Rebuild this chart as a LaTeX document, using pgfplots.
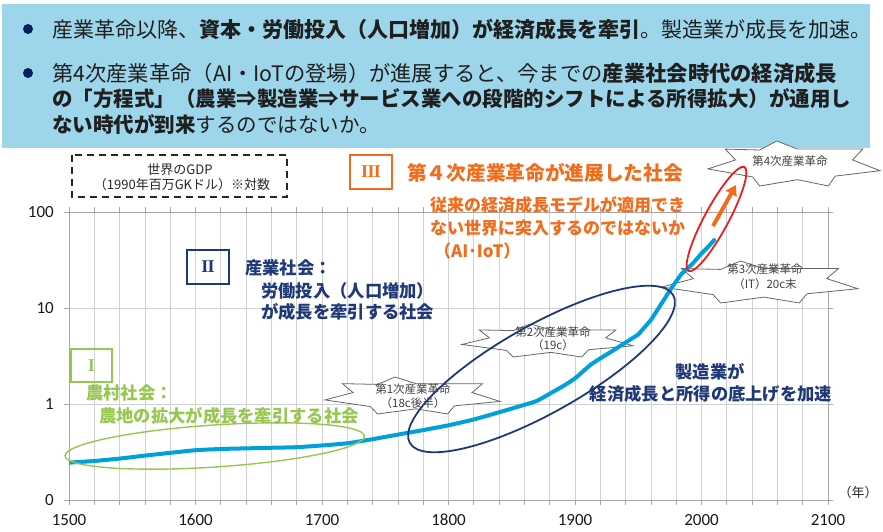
\documentclass[border=0pt]{standalone}
\usepackage{fontspec}
\setmainfont{Noto Sans CJK JP}
\newfontfamily\carlito{Carlito}
\newfontfamily\romfont{Liberation Serif}
\usepackage{pgfplots}
\pgfplotsset{compat=1.18}
\usetikzlibrary{arrows.meta}
\definecolor{hdrblue}{RGB}{157,214,235}
\definecolor{bulletnavy}{RGB}{0,32,96}
\definecolor{navy}{RGB}{31,56,120}
\definecolor{orng}{RGB}{242,108,28}
\definecolor{grn}{RGB}{150,200,80}
\definecolor{curvec}{RGB}{0,160,220}
\definecolor{redell}{RGB}{235,30,35}
\newcommand{\fs}[2]{\fontsize{#1}{#2}\selectfont}
\newcommand{\burst}[4]{%
  \begin{scope}[shift={(#1,#2)}, xscale=#3, yscale=#4]
   \filldraw[fill=white, draw=black!60, line width=0.8pt]
     (0.00,0.62) -- (0.16,0.42) -- (0.10,0.18) -- (0.30,0.20) -- (0.40,0.00) --
     (0.52,0.18) -- (0.90,0.18) -- (0.84,0.42) -- (1.00,0.66) -- (0.74,0.78) --
     (0.70,1.00) -- (0.52,0.86) -- (0.30,1.00) -- (0.26,0.80) -- cycle;
  \end{scope}}
\pgfplotstableread{
year gdp
1500 0.245
1520 0.255
1540 0.270
1560 0.290
1580 0.310
1600 0.330
1620 0.340
1640 0.345
1660 0.350
1680 0.355
1700 0.370
1720 0.390
1740 0.430
1760 0.480
1780 0.535
1800 0.600
1820 0.690
1840 0.820
1860 0.980
1870 1.080
1880 1.280
1890 1.520
1900 1.850
1913 2.600
1930 3.600
1950 5.300
}\gdpearly
\pgfplotstableread{
year gdp
1950 5.300
1960 7.500
1970 12.00
1976 16.00
1984 22.50
1993 29.00
2000 37.00
2005 43.00
2010 51.00
}\gdplate
\begin{document}
\begin{tikzpicture}[x=1pt,y=1pt]
\path[use as bounding box] (0,0) rectangle (883,532);
% header
\begin{scope}[shift={(0,532)}, yscale=-1]
 \fill[hdrblue] (2,4) rectangle (870,148);
 \fill[bulletnavy] (28,29) circle (5);
 \fill[bulletnavy] (28,73) circle (5);
 \node[anchor=west, inner sep=0pt, text=black!88] at (52,29) {\fs{21}{24}産業革命以降、\textbf{資本・労働投入（人口増加）が経済成長を牽引}。製造業が成長を加速。};
 \node[anchor=west, inner sep=0pt, text=black!88] at (52,73) {\fs{21.3}{24}第4次産業革命（AI・IoTの登場）が進展すると、今までの\textbf{産業社会時代の経済成長}};
 \node[anchor=west, inner sep=0pt, text=black!88] at (52,99) {\fs{20.5}{24}\textbf{の「方程式」（農業⇒製造業⇒サービス業への段階的シフトによる所得拡大）が通用し}};
 \node[anchor=west, inner sep=0pt, text=black!88] at (52,125) {\fs{20.5}{24}\textbf{ない時代が到来}するのではないか。};
\end{scope}
% grid axis
\begin{axis}[at={(69pt,32pt)}, anchor=south west, scale only axis,
  width=759pt, height=288pt,
  xmin=1500, xmax=2100, ymode=log, ymin=0.1, ymax=100,
  xtick={1500,1600,1700,1800,1900,2000,2100},
  xticklabels={1500,1600,1700,1800,1900,2000,2100},
  minor xtick={1520,1540,1560,1580,1620,1640,1660,1680,1720,1740,1760,1780,1820,1840,1860,1880,1920,1940,1960,1980,2020,2040,2060,2080},
  ytick={0.1,1,10,100}, yticklabels={0,1,10,100},
  yminorticks=false,
  xmajorgrids, xminorgrids, ymajorgrids,
  grid style={black!18, line width=0.8pt},
  minor grid style={black!18, line width=0.8pt},
  axis line style={black!35, line width=0.8pt},
  tick align=outside, major tick length=5pt, minor tick length=5pt,
  tick style={black!35, line width=0.8pt},
  ticklabel style={font=\carlito\fs{17}{17}, text=black!90, inner sep=0pt},
  /pgf/number format/assume math mode=true,
  xticklabel shift=9pt, yticklabel shift=10pt,
]
\addplot[draw=none] coordinates {(1500,1)};
\end{axis}
% bursts (under curve)
\begin{scope}[shift={(0,532)}, yscale=-1]
 \burst{325}{377}{175}{37}
 \burst{462}{324}{171}{33}
 \burst{662}{261}{196}{42}
 \burst{708}{141}{172}{45}
 \node[text=black!75] at (413,389) {\fs{11.5}{12}第1次産業革命};
 \node[text=black!75] at (413,403) {\fs{11.5}{12}（18c後半）};
 \node[text=black!75] at (553,332) {\fs{11.5}{12}第2次産業革命};
 \node[text=black!75] at (553,345) {\fs{11.5}{12}（19c）};
 \node[text=black!75] at (765,269) {\fs{11.5}{12}第3次産業革命};
 \node[text=black!75] at (765,284) {\fs{11.5}{12}（IT）20c末};
 \node[text=black!75] at (790,161) {\fs{11.5}{12}第4次産業革命};
\end{scope}
% curve axis
\begin{axis}[at={(69pt,32pt)}, anchor=south west, scale only axis,
  width=759pt, height=288pt,
  xmin=1500, xmax=2100, ymode=log, ymin=0.1, ymax=100,
  axis lines=none, ticks=none]
\addplot[curvec, line width=4pt, line join=round, line cap=round, smooth, tension=0.4] table[x=year, y=gdp] {\gdpearly};
\addplot[curvec, line width=4pt, line join=round, line cap=round] table[x=year, y=gdp] {\gdplate};
\end{axis}
% annotations
\begin{scope}[shift={(0,532)}, yscale=-1]
 \draw[dash pattern=on 7pt off 5pt, line width=1.8pt, black!85] (72,155) rectangle (287,197);
 \node[text=black!85] at (180,170) {\fs{13}{14}世界のGDP};
 \node[text=black!85] at (182,185) {\fs{13}{14}（1990年百万GKドル）※対数};
 % III
 \draw[orng, line width=2pt] (350,155) rectangle (392,189);
 \node[text=orng] at (371,172) {\romfont\fs{18}{18}\textbf{I\kern-0.6pt I\kern-0.6pt I}};
 \node[anchor=west, inner sep=0pt, text=orng] at (407,173) {\fs{19.7}{22}\textbf{第４次産業革命が進展した社会}};
 \node[anchor=west, inner sep=0pt, text=orng] at (430,205) {\fs{17}{18}\textbf{従来の経済成長モデルが適用でき}};
 \node[anchor=west, inner sep=0pt, text=orng] at (430,228) {\fs{17}{18}\textbf{ない世界に突入するのではないか}};
 \node[anchor=west, inner sep=0pt, text=orng] at (434,251) {\fs{17}{18}\textbf{（AI･IoT）}};
 % II
 \draw[navy, line width=2pt] (187,250) rectangle (229,284);
 \node[text=navy] at (208,267) {\romfont\fs{18}{18}\textbf{I\kern-0.6pt I}};
 \node[anchor=west, inner sep=0pt, text=navy] at (245,268) {\fs{17.3}{18}\textbf{産業社会：}};
 \node[anchor=west, inner sep=0pt, text=navy] at (261,291) {\fs{17.3}{18}\textbf{労働投入（人口増加）}};
 \node[anchor=west, inner sep=0pt, text=navy] at (261,312) {\fs{17.3}{18}\textbf{が成長を牽引する社会}};
 \node[text=navy] at (710,372) {\fs{17.3}{18}\textbf{製造業が}};
 \node[text=navy] at (711,394) {\fs{17.3}{18}\textbf{経済成長と所得の底上げを加速}};
 % I
 \draw[grn, line width=2pt] (71,349) rectangle (112,382);
 \node[text=grn] at (91.5,366) {\romfont\fs{18}{18}\textbf{I}};
 \node[anchor=west, inner sep=0pt, text=grn] at (86,393) {\fs{17.3}{18}\textbf{農村社会：}};
 \node[anchor=west, inner sep=0pt, text=grn] at (99,416) {\fs{17.3}{18}\textbf{農地の拡大が成長を牽引する社会}};
 % ellipses
 \draw[grn, line width=1.4pt, rotate around={-3.8:(214.7,446)}] (214.7,446) ellipse [x radius=150, y radius=21];
 \draw[navy, line width=1.8pt, rotate around={-29.3:(541.5,369)}] (541.5,369) ellipse [x radius=151, y radius=44];
 \draw[redell, line width=1.8pt, rotate around={-61.7:(716.5,219)}] (716.5,219) ellipse [x radius=59, y radius=12];
 \draw[orng, line width=4pt, -{Triangle[length=10pt,width=12pt]}] (713,226) -- (736,185);
 \node[text=black!85] at (858,493) {\fs{13}{14}（年）};
\end{scope}
\end{tikzpicture}
\end{document}
